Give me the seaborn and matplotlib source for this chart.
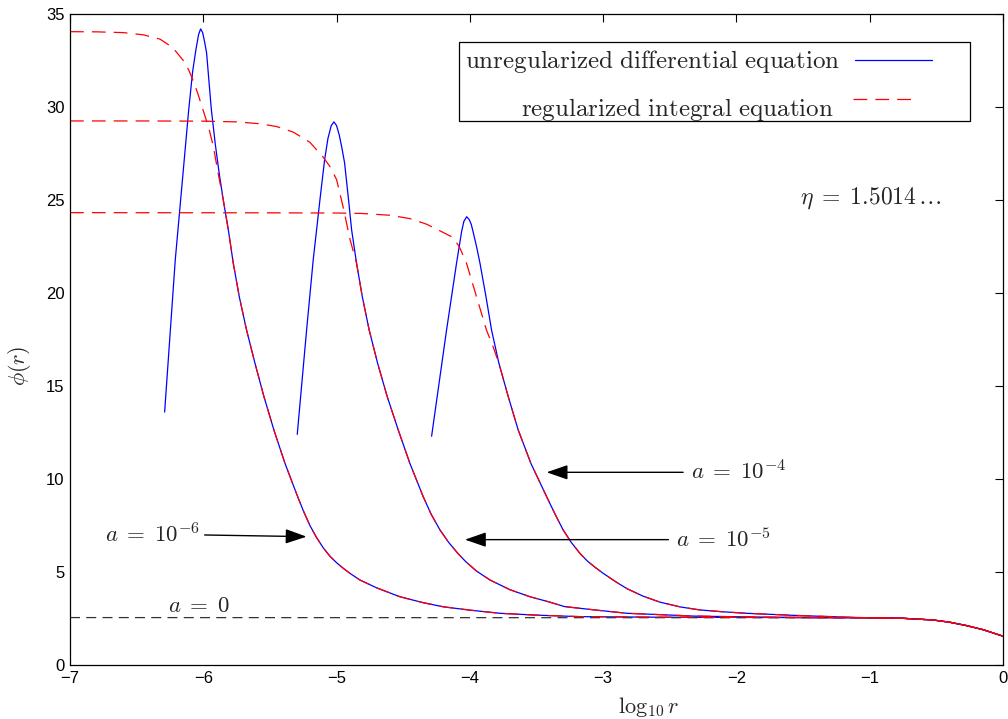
import numpy as np
import pandas as pd
import matplotlib
matplotlib.use('Agg')
import matplotlib.pyplot as plt
import seaborn as sns
from matplotlib.lines import Line2D
from matplotlib.patches import Rectangle

sns.set_style('white')
plt.rcParams['font.family'] = ['Liberation Sans', 'DejaVu Sans']
plt.rcParams['mathtext.fontset'] = 'cm'

# values
# common tail near r = 1 (all curves meet here)
tail_x = [-1.0, -0.75, -0.525, -0.4, -0.275, -0.15, 0.0]
tail_y = [2.54, 2.51, 2.42, 2.30, 2.12, 1.90, 1.55]

# unregularized differential equation, a = 1e-6
blue1_x = [-6.29, -6.25, -6.21, -6.17, -6.11, -6.08, -6.055, -6.035, -6.02, -6.005,
           -5.99, -5.975, -5.96, -5.94, -5.91, -5.88, -5.85, -5.812, -5.775, -5.73,
           -5.675, -5.612, -5.545, -5.47, -5.387, -5.30, -5.25, -5.20, -5.15, -5.10,
           -5.05, -5.0, -4.95, -4.9, -4.825, -4.7, -4.525, -4.35, -4.2, -4.0,
           -3.774, -3.5, -3.174, -2.6, -2.0, -1.5]
blue1_y = [13.6, 17.7, 21.8, 25.0, 29.8, 31.9, 33.1, 33.9, 34.2, 34.0,
           33.5, 32.9, 31.6, 29.9, 28.0, 26.4, 25.0, 23.39, 21.6, 19.8,
           18.0, 16.22, 14.43, 12.63, 10.84, 9.2, 8.3, 7.5, 6.85, 6.3,
           5.85, 5.5, 5.2, 4.93, 4.57, 4.15, 3.67, 3.35, 3.13, 2.95,
           2.78, 2.68, 2.60, 2.57, 2.56, 2.55]

# a = 1e-5
blue2_x = [-5.295, -5.225, -5.175, -5.15, -5.125, -5.09, -5.065, -5.04, -5.02, -5.0,
           -4.98, -4.96, -4.94, -4.91, -4.887, -4.85, -4.807, -4.755, -4.692, -4.62,
           -4.537, -4.45, -4.35, -4.29, -4.224, -4.16, -4.09, -4.03, -3.95, -3.849,
           -3.7, -3.549, -3.4, -3.29, -3.05, -2.82, -2.55, -2.32, -1.8, -1.4]
blue2_y = [12.4, 18.0, 21.8, 23.39, 25.0, 27.15, 28.3, 29.0, 29.2, 29.0,
           28.5, 27.8, 27.0, 25.0, 23.39, 21.6, 19.8, 18.0, 16.22, 14.43,
           12.63, 10.84, 9.05, 8.1, 7.26, 6.6, 6.0, 5.55, 5.05, 4.57,
           4.05, 3.67, 3.38, 3.14, 2.95, 2.78, 2.70, 2.63, 2.57, 2.55]

# a = 1e-4
blue3_x = [-4.287, -4.175, -4.10, -4.062, -4.045, -4.024, -4.005, -3.99, -3.979, -3.95,
           -3.924, -3.879, -3.837, -3.782, -3.712, -3.637, -3.542, -3.424, -3.36, -3.30,
           -3.24, -3.174, -3.12, -3.06, -3.0, -2.9, -2.82, -2.7, -2.574, -2.42,
           -2.274, -2.1, -1.924, -1.574, -1.13]
blue3_y = [12.3, 18.0, 21.6, 23.3, 23.85, 24.1, 23.95, 23.7, 23.39, 22.5,
           21.6, 19.8, 18.0, 16.22, 14.43, 12.63, 10.84, 9.05, 8.1, 7.26,
           6.6, 6.0, 5.6, 5.25, 4.93, 4.45, 4.1, 3.7, 3.38, 3.12,
           2.96, 2.86, 2.78, 2.67, 2.56]

# regularized integral equation (before it joins the unregularized curve)
red1_x = [-7.0, -6.8, -6.6, -6.45, -6.325, -6.23, -6.15, -6.11, -6.075, -6.04,
          -6.0, -5.96, -5.925, -5.89]
red1_y = [34.05, 34.04, 34.0, 33.88, 33.65, 33.2, 32.5, 32.0, 31.4, 30.7,
          29.8, 28.9, 27.9, 26.5]
red2_x = [-7.0, -6.5, -6.0, -5.75, -5.575, -5.45, -5.325, -5.2, -5.1, -5.05,
          -5.0, -4.95, -4.9]
red2_y = [29.25, 29.25, 29.24, 29.2, 29.1, 28.95, 28.65, 28.1, 27.3, 26.8,
          26.1, 24.6, 22.9]
red3_x = [-7.0, -5.5, -5.0, -4.82, -4.6, -4.45, -4.325, -4.24, -4.13, -4.08,
          -4.025, -3.95, -3.875, -3.825]
red3_y = [24.32, 24.31, 24.3, 24.28, 24.18, 24.0, 23.7, 23.4, 23.0, 22.5,
          21.6, 19.8, 18.0, 17.1]

# a = 0
zero_x = [-7.0] + tail_x
zero_y = [2.55] + tail_y

fig = plt.figure(figsize=(10.08, 7.19), dpi=100)
ax = fig.add_axes([70 / 1008, 54 / 719, 933 / 1008, 651 / 719])

blue_sets = [(blue1_x, blue1_y), (blue2_x, blue2_y), (blue3_x, blue3_y)]
red_sets = [(red1_x, red1_y), (red2_x, red2_y), (red3_x, red3_y)]

for bx, by in blue_sets:
    df = pd.DataFrame({'x': bx + tail_x, 'y': by + tail_y})
    sns.lineplot(data=df, x='x', y='y', sort=False, estimator=None,
                 color='blue', lw=0.9, ax=ax)

sns.lineplot(x=zero_x, y=zero_y, sort=False, estimator=None, color='0.2',
             lw=0.9, linestyle=(0, (8, 5)), ax=ax)

for (rx, ry), (bx, by) in zip(red_sets, blue_sets):
    # after the plateau the regularized curve follows the unregularized one
    bx = np.array(bx)
    by = np.array(by)
    keep = bx > rx[-1] + 0.03
    df = pd.DataFrame({'x': rx + list(bx[keep]) + tail_x,
                       'y': ry + list(by[keep]) + tail_y})
    sns.lineplot(data=df, x='x', y='y', sort=False, estimator=None,
                 color='red', lw=0.9, linestyle=(0, (11, 6.5)), ax=ax)

ax.set_xlim(-7, 0)
ax.set_ylim(0, 35)
ax.set_xticks(range(-7, 1))
ax.set_yticks(range(0, 36, 5))
ax.tick_params(direction='in', top=True, right=True, length=6, width=0.8,
               labelsize=12, colors='black', pad=4)
for s in ax.spines.values():
    s.set_linewidth(0.9)
    s.set_color('black')
ax.set_xlabel(r'$\log_{10}r$', fontsize=16)
ax.set_ylabel(r'$\phi(r)$', fontsize=16)
ax.xaxis.set_label_coords(0.62, -0.046)
ax.yaxis.set_label_coords(-0.04, 0.46)

arrow = dict(arrowstyle='-|>,head_length=1.3,head_width=0.45', color='black',
             lw=1.0, shrinkA=0, shrinkB=0)
ax.annotate('', xy=(-5.225, 6.9), xytext=(-5.99, 6.99), arrowprops=arrow)
ax.annotate('', xy=(-4.037, 6.74), xytext=(-2.51, 6.74), arrowprops=arrow)
ax.annotate('', xy=(-3.424, 10.36), xytext=(-2.40, 10.36), arrowprops=arrow)
ax.text(-6.03, 6.99, r'$a\;=\;10^{-6}$', fontsize=16.5, ha='right', va='center')
ax.text(-2.45, 6.72, r'$a\;=\;10^{-5}$', fontsize=16.5, ha='left', va='center')
ax.text(-2.34, 10.38, r'$a\;=\;10^{-4}$', fontsize=16.5, ha='left', va='center')
ax.text(-6.265, 3.2, r'$a\;=\;0$', fontsize=16.5, ha='left', va='center')
ax.text(-1.524, 25.1, r'$\eta\;=\;1.5014\,\ldots$', fontsize=17, ha='left', va='center')

# legend drawn in the matlab layout: text first, sample line after it
ax.add_patch(Rectangle((0.417, 0.836), 0.548, 0.121, transform=ax.transAxes,
                       facecolor='white', edgecolor='black', lw=0.9, zorder=5))
ax.text(0.4234, 0.9278, r'$\mathrm{unregularized\ differential\ equation}$',
        transform=ax.transAxes, fontsize=18, ha='left', va='center', zorder=6)
ax.text(0.4834, 0.854, r'$\mathrm{regularized\ integral\ equation}$',
        transform=ax.transAxes, fontsize=18, ha='left', va='center', zorder=6)
ax.add_line(Line2D([0.8414, 0.9239], [0.9293, 0.9293], transform=ax.transAxes,
                   color='blue', lw=0.9, zorder=6))
ax.add_line(Line2D([0.8392, 0.9067], [0.8694, 0.8694], transform=ax.transAxes,
                   color='red', lw=0.9, linestyle=(0, (11, 6.5)), zorder=6))

fig.savefig('out.png', dpi=100)
